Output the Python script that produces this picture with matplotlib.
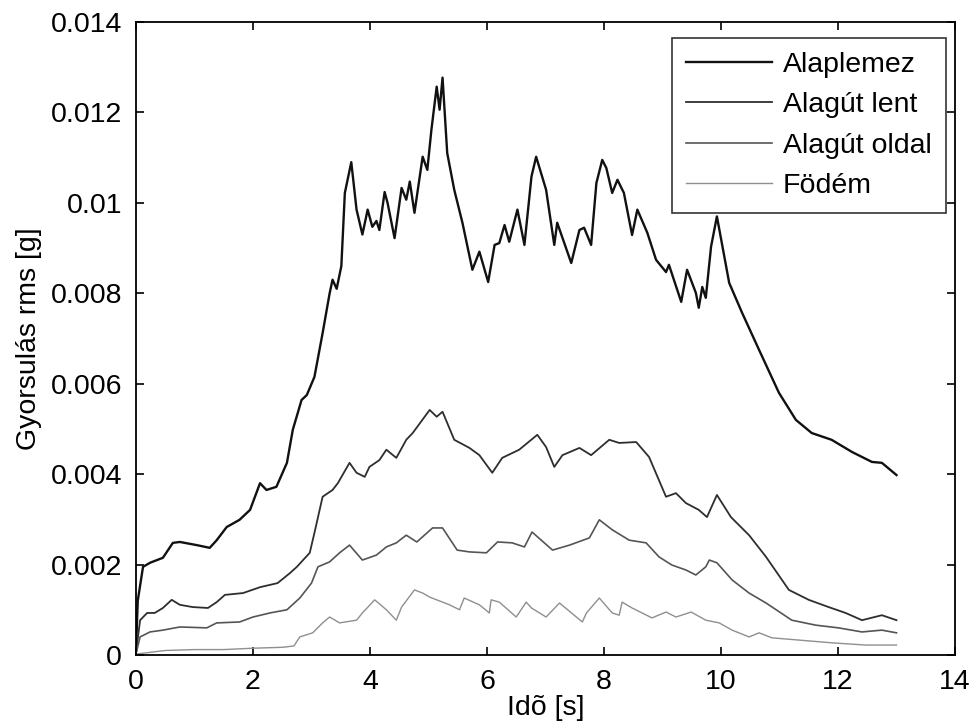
import matplotlib
matplotlib.use("Agg")
import matplotlib.pyplot as plt
import numpy as np

plt.rcParams['font.family'] = ['Liberation Sans', 'DejaVu Sans']

# ---- data (acceleration rms in units of 1e-3 g) ----
t_alap = [0, 0.03, 0.12, 0.24, 0.46, 0.63, 0.75, 1.04, 1.26, 1.38, 1.55, 1.77, 1.95, 2.12, 2.23, 2.4,
          2.58, 2.68, 2.83, 2.92, 3.05, 3.19, 3.31, 3.36, 3.43, 3.51, 3.57, 3.68, 3.77, 3.87, 3.96, 4.04,
          4.11, 4.16, 4.25, 4.3, 4.42, 4.54, 4.62, 4.68, 4.76, 4.9, 4.98, 5.05, 5.14, 5.19, 5.24, 5.32,
          5.44, 5.58, 5.75, 5.87, 6.02, 6.13, 6.21, 6.30, 6.38, 6.52, 6.64, 6.76, 6.84, 7.01, 7.15, 7.2,
          7.44, 7.58, 7.66, 7.78, 7.87, 7.97, 8.04, 8.14, 8.23, 8.34, 8.48, 8.57, 8.74, 8.89, 9.06, 9.11,
          9.32, 9.42, 9.57, 9.62, 9.68, 9.74, 9.83, 9.93, 10.14, 10.36, 10.65, 10.99, 11.28, 11.55, 11.89,
          12.24, 12.58, 12.75, 13.0]
y_alap = [0.1, 1.2, 1.95, 2.04, 2.15, 2.48, 2.5, 2.43, 2.37, 2.54, 2.83, 2.99, 3.21, 3.8, 3.65, 3.72,
          4.25, 4.98, 5.64, 5.75, 6.15, 7.12, 8.0, 8.3, 8.1, 8.6, 10.22, 10.9, 9.85, 9.3, 9.85, 9.47,
          9.6, 9.4, 10.24, 10.0, 9.22, 10.33, 10.07, 10.47, 9.78, 11.02, 10.73, 11.62, 12.57, 12.06, 12.77, 11.1,
          10.29, 9.56, 8.52, 8.92, 8.25, 9.07, 9.11, 9.51, 9.14, 9.85, 9.07, 10.58, 11.02, 10.29, 9.07, 9.56,
          8.67, 9.4, 9.45, 9.07, 10.44, 10.95, 10.77, 10.22, 10.51, 10.22, 9.29, 9.85, 9.34, 8.74, 8.47, 8.63,
          7.81, 8.52, 8.01, 7.68, 8.14, 7.9, 9.03, 9.7, 8.23, 7.57, 6.75, 5.8, 5.2, 4.91, 4.76,
          4.49, 4.27, 4.25, 3.98]

t_lent = [0, 0.07, 0.19, 0.32, 0.46, 0.61, 0.75, 0.97, 1.23, 1.38, 1.52, 1.83, 2.12, 2.42, 2.63, 2.75,
          2.97, 3.05, 3.19, 3.36, 3.45, 3.65, 3.77, 3.91, 3.99, 4.16, 4.28, 4.45, 4.62, 4.73, 5.02, 5.14,
          5.24, 5.44, 5.70, 5.87, 6.09, 6.26, 6.55, 6.86, 7.01, 7.15, 7.29, 7.58, 7.78, 8.09, 8.26, 8.55,
          8.77, 9.06, 9.23, 9.40, 9.62, 9.76, 9.93, 10.17, 10.48, 10.77, 11.16, 11.5, 11.84, 12.13, 12.41,
          12.75, 13.0]
y_lent = [0.05, 0.77, 0.93, 0.93, 1.04, 1.22, 1.11, 1.06, 1.04, 1.17, 1.33, 1.37, 1.5, 1.59, 1.81, 1.95,
          2.26, 2.7, 3.5, 3.65, 3.8, 4.25, 4.03, 3.94, 4.16, 4.31, 4.54, 4.36, 4.76, 4.91, 5.42, 5.27,
          5.38, 4.76, 4.58, 4.42, 4.03, 4.36, 4.54, 4.87, 4.6, 4.16, 4.42, 4.58, 4.42, 4.76, 4.69, 4.71,
          4.38, 3.5, 3.58, 3.36, 3.21, 3.05, 3.54, 3.05, 2.65, 2.17, 1.44, 1.22, 1.06, 0.93, 0.77,
          0.88, 0.77]

t_oldal = [0, 0.07, 0.24, 0.46, 0.75, 1.21, 1.38, 1.77, 2.0, 2.29, 2.58, 2.8, 3.0, 3.11, 3.31, 3.48,
           3.65, 3.87, 4.11, 4.28, 4.45, 4.62, 4.8, 5.07, 5.24, 5.49, 5.7, 5.99, 6.18, 6.43, 6.64, 6.77,
           7.12, 7.41, 7.75, 7.92, 8.14, 8.43, 8.72, 8.94, 9.16, 9.40, 9.57, 9.74, 9.8, 9.93, 10.19,
           10.48, 10.77, 11.21, 11.62, 12.01, 12.41, 12.75, 13.0]
y_oldal = [0.03, 0.4, 0.51, 0.55, 0.62, 0.6, 0.71, 0.73, 0.84, 0.93, 1.0, 1.26, 1.59, 1.95, 2.06, 2.26,
           2.43, 2.1, 2.21, 2.39, 2.48, 2.65, 2.5, 2.81, 2.81, 2.32, 2.28, 2.26, 2.5, 2.48, 2.39, 2.72,
           2.32, 2.43, 2.59, 2.99, 2.77, 2.54, 2.48, 2.17, 1.99, 1.88, 1.77, 1.95, 2.1, 2.04, 1.66,
           1.37, 1.15, 0.77, 0.66, 0.6, 0.51, 0.55, 0.49]

t_fodem = [0, 0.5, 1.0, 1.5, 2.0, 2.5, 2.7, 2.8, 3.02, 3.19, 3.31, 3.48, 3.77, 3.87, 4.08, 4.28, 4.45,
           4.54, 4.76, 4.9, 5.02, 5.36, 5.53, 5.61, 5.87, 6.04, 6.07, 6.21, 6.50, 6.67, 6.76, 7.01, 7.24,
           7.63, 7.7, 7.92, 8.14, 8.26, 8.31, 8.48, 8.82, 9.06, 9.23, 9.49, 9.74, 9.97, 10.19, 10.48,
           10.65, 10.87, 11.33, 11.89, 12.47, 13.0]
y_fodem = [0.02, 0.1, 0.12, 0.12, 0.15, 0.17, 0.2, 0.4, 0.49, 0.71, 0.84, 0.71, 0.77, 0.93, 1.22, 1.0, 0.77,
           1.06, 1.44, 1.37, 1.28, 1.11, 1.0, 1.26, 1.11, 0.93, 1.22, 1.17, 0.84, 1.17, 1.04, 0.84, 1.15,
           0.73, 0.93, 1.26, 0.93, 0.88, 1.17, 1.04, 0.82, 0.95, 0.84, 0.95, 0.77, 0.71, 0.55, 0.4,
           0.49, 0.38, 0.33, 0.27, 0.22, 0.22]

labels = ['Alaplemez', 'Alagút lent', 'Alagút oldal', 'Födém']
xticks = [0, 2, 4, 6, 8, 10, 12, 14]
yticks = [0, 0.002, 0.004, 0.006, 0.008, 0.01, 0.012, 0.014]
ytick_labels = ['0', '0.002', '0.004', '0.006', '0.008', '0.01', '0.012', '0.014']
xlabel = 'Idõ [s]'
ylabel = 'Gyorsulás rms [g]'

series = [(t_alap, y_alap), (t_lent, y_lent), (t_oldal, y_oldal), (t_fodem, y_fodem)]
colors = ['#111111', '#2e2e2e', '#555555', '#8f8f8f']
widths = [1.7, 1.3, 1.2, 1.0]

FS = 20.5

fig = plt.figure(figsize=(9.79, 7.27), dpi=100)
ax = fig.add_axes([136/979, 72/727, (955-136)/979, (655-22)/727])

for (t, y), lab, c, lw in zip(series, labels, colors, widths):
    ax.plot(t, np.array(y) * 1e-3, color=c, lw=lw, label=lab)

ax.set_xlim(0, 14)
ax.set_ylim(0, 0.014)
ax.set_xticks(xticks)
ax.set_xticklabels([str(v) for v in xticks])
ax.set_yticks(yticks)
ax.set_yticklabels(ytick_labels)
ax.tick_params(direction='in', length=6, width=1.2, top=True, right=True,
               labelsize=FS, colors='black')
ax.tick_params(axis='x', pad=10)
ax.tick_params(axis='y', pad=10)
for s in ax.spines.values():
    s.set_linewidth(1.3)
ax.set_xlabel(xlabel, fontsize=FS, labelpad=0)
ax.set_ylabel(ylabel, fontsize=FS, labelpad=6)

leg = ax.legend(loc='upper right', bbox_to_anchor=(0.989, 0.975), borderaxespad=0,
                fontsize=FS, handlelength=3.0, handletextpad=0.4, labelspacing=0.5,
                borderpad=0.5, fancybox=False, frameon=True)
leg.get_frame().set_edgecolor('black')
leg.get_frame().set_linewidth(1.2)

fig.savefig('out.png', dpi=100)
